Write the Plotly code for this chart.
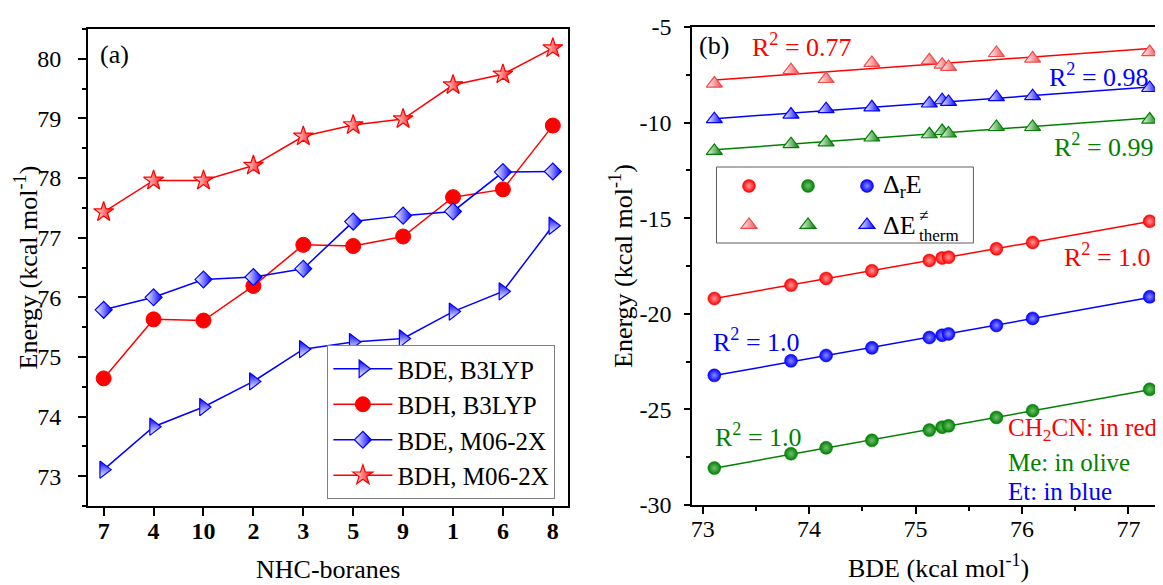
import numpy as np
import plotly.graph_objects as go

# ---------------- data ----------------
nhc_boranes = ["7", "4", "10", "2", "3", "5", "9", "1", "6", "8"]
bde_b3lyp = [73.11, 73.83, 74.16, 74.59, 75.13, 75.25, 75.31, 75.76, 76.10, 77.20]
bdh_b3lyp = [74.64, 75.63, 75.61, 76.19, 76.88, 76.86, 77.02, 77.68, 77.81, 78.88]
bde_m062x = [75.79, 76.00, 76.30, 76.34, 76.48, 77.27, 77.37, 77.44, 78.10, 78.11]
bdh_m062x = [77.43, 77.96, 77.96, 78.21, 78.70, 78.89, 78.99, 79.56, 79.74, 80.18]

# panel (b): x = BDE (B3LYP)
dre_ch2cn = [-19.20, -18.50, -18.15, -17.75, -17.21, -17.08, -17.04, -16.60, -16.27, -15.16]
dre_me = [-28.07, -27.32, -27.01, -26.62, -26.08, -25.93, -25.86, -25.42, -25.07, -23.95]
dre_et = [-23.22, -22.46, -22.18, -21.78, -21.24, -21.12, -21.05, -20.61, -20.24, -19.11]
dets_ch2cn = [-7.96, -7.26, -7.72, -6.88, -6.74, -6.97, -7.09, -6.36, -6.65, -6.31]
dets_me = [-11.48, -11.13, -11.03, -10.78, -10.61, -10.44, -10.57, -10.23, -10.23, -9.84]
dets_et = [-9.82, -9.58, -9.30, -9.20, -9.00, -8.83, -8.92, -8.67, -8.62, -8.19]

r2_labels = ["0.77", "0.98", "0.99", "1.0", "1.0", "1.0"]
yticks_b = [-30, -25, -20, -15, -10, -5]

# ---------------- layout helpers ----------------
FONT = "Liberation Serif"
OFF = 8  # default page body margin
W, H = 1163 - OFF, 585 - OFF
MT, MB = 27 - OFF, 79
PH = H - MT - MB


def px(x):
    return (x - OFF) / W


def py(y):
    return (H - MB - (y - OFF)) / PH


RED, GREEN, BLUE = "#ff0000", "#008000", "#0000ff"
RED_T = "#f04a4a"

fig = go.Figure()

# ---------------- panel (a) ----------------
fig.add_trace(go.Scatter(
    x=nhc_boranes, y=bde_b3lyp, mode="lines+markers", name="BDE, B3LYP",
    line=dict(color=BLUE, width=1.5),
    marker=dict(symbol="triangle-right", size=15, color=BLUE,
                gradient=dict(type="vertical", color="white"),
                line=dict(color=BLUE, width=1.2)),
    xaxis="x", yaxis="y", legend="legend"))
fig.add_trace(go.Scatter(
    x=nhc_boranes, y=bdh_b3lyp, mode="lines+markers", name="BDH, B3LYP",
    line=dict(color=RED, width=1.5),
    marker=dict(symbol="circle", size=15, color=RED, line=dict(color=RED, width=1)),
    xaxis="x", yaxis="y", legend="legend"))
fig.add_trace(go.Scatter(
    x=nhc_boranes, y=bde_m062x, mode="lines+markers", name="BDE, M06-2X",
    line=dict(color=BLUE, width=1.5),
    marker=dict(symbol="diamond", size=13, color="white",
                gradient=dict(type="horizontal", color=BLUE),
                line=dict(color=BLUE, width=1.2)),
    xaxis="x", yaxis="y", legend="legend"))
fig.add_trace(go.Scatter(
    x=nhc_boranes, y=bdh_m062x, mode="lines+markers", name="BDH, M06-2X",
    line=dict(color=RED, width=1.5),
    marker=dict(symbol="star", size=15, color="white",
                gradient=dict(type="horizontal", color=RED),
                line=dict(color=RED, width=1.2)),
    xaxis="x", yaxis="y", legend="legend"))

# ---------------- panel (b) ----------------
series_b = [
    (dets_ch2cn, RED), (dets_et, BLUE), (dets_me, GREEN),
    (dre_ch2cn, RED), (dre_et, BLUE), (dre_me, GREEN),
]
xb = np.array(bde_b3lyp)
for ys, col in series_b:
    k, b0 = np.polyfit(xb, np.array(ys), 1)
    xl = np.array([xb.min(), xb.max()])
    fig.add_trace(go.Scatter(
        x=xl, y=k * xl + b0, mode="lines", line=dict(color=col, width=1.5),
        showlegend=False, xaxis="x2", yaxis="y2", hoverinfo="skip"))

ball_tint = {RED: "#ff9a9a", GREEN: "#70c070", BLUE: "#8a8aff"}
for ys, col in [(dre_ch2cn, RED), (dre_me, GREEN), (dre_et, BLUE)]:
    fig.add_trace(go.Scatter(
        x=bde_b3lyp, y=ys, mode="markers", name="",
        marker=dict(symbol="circle", size=13, color=col,
                    gradient=dict(type="radial", color=ball_tint[col]),
                    line=dict(color=col, width=0.5)),
        xaxis="x2", yaxis="y2", legend="legend2"))
for ys, col in [(dets_ch2cn, RED_T), (dets_me, GREEN), (dets_et, BLUE)]:
    fig.add_trace(go.Scatter(
        x=bde_b3lyp, y=ys, mode="markers", name="",
        marker=dict(symbol="triangle-up", size=14, color="white",
                    gradient=dict(type="horizontal", color=col),
                    line=dict(color=col, width=1.2)),
        xaxis="x2", yaxis="y2", legend="legend3"))

# ---------------- axes ----------------
axis_common = dict(showline=True, linecolor="black", linewidth=1.5, showgrid=False,
                   zeroline=False, ticks="outside", tickcolor="black", tickwidth=1.5,
                   tickfont=dict(family=FONT, size=24, color="black"))
minor_common = dict(ticks="outside", ticklen=4, tickwidth=1.5, tickcolor="black", showgrid=False)

fig.update_layout(
    xaxis=dict(axis_common, domain=[px(87.7), px(567.8)], type="category",
               categoryorder="array", categoryarray=nhc_boranes,
               range=[-0.32, 9.3], mirror=True, ticklen=8, anchor="y",
               ticklabelstandoff=-6,
               tickfont=dict(family=FONT, size=24, color="black", weight="bold")),
    yaxis=dict(axis_common, domain=[0, py(29)], range=[72.5, 80.5], dtick=1, tick0=73,
               mirror=True, ticklen=8, anchor="x", ticklabelstandoff=12,
               minor=dict(minor_common, dtick=0.5, tick0=72.5)),
    xaxis2=dict(axis_common, domain=[px(692), 1], range=[72.9, 77.325], dtick=1, tick0=73,
                mirror=True, ticklen=7, anchor="y2", ticklabelstandoff=-6,
                minor=dict(minor_common, dtick=0.5, tick0=72.5)),
    yaxis2=dict(axis_common, domain=[py(505), 1], range=[-30, -5], dtick=5, tick0=-30,
                labelalias={"\u2212" + str(-v): str(v) for v in yticks_b},
                mirror=False, ticklen=6, anchor="x2", ticklabelstandoff=8,
                minor=dict(minor_common, dtick=2.5, tick0=-30)),
)

# ---------------- legends ----------------
fig.update_layout(
    legend=dict(x=px(327.4), y=py(345), xanchor="left", yanchor="top",
                bordercolor="#808080", borderwidth=1, bgcolor="white",
                font=dict(family=FONT, size=25, color="black"), itemwidth=59,
                tracegroupgap=0),
    legend2=dict(orientation="h", x=px(729), y=py(186), xanchor="left", yanchor="middle",
                 entrywidth=14, bgcolor="rgba(0,0,0,0)", borderwidth=0,
                 font=dict(family=FONT, size=26, color="black")),
    legend3=dict(orientation="h", x=px(729), y=py(225), xanchor="left", yanchor="middle",
                 entrywidth=14, bgcolor="rgba(0,0,0,0)", borderwidth=0,
                 font=dict(family=FONT, size=26, color="black")),
)
fig.add_shape(type="rect", xref="paper", yref="paper",
              x0=px(716.5), x1=px(973.4), y0=py(243), y1=py(167),
              line=dict(color="#606060", width=1), fillcolor="rgba(0,0,0,0)")

# ---------------- annotations ----------------
def ann(text, x, y, color="black", xanchor="left", size=26, angle=0):
    fig.add_annotation(text=text, x=px(x), y=py(y), xref="paper", yref="paper",
                       xanchor=xanchor, yanchor="middle", showarrow=False,
                       textangle=angle, font=dict(family=FONT, size=size, color=color))


ann("(a)", 98, 55)
ann("Energy (kcal mol<sup>-1</sup>)", 27, 267.5, xanchor="center", angle=-90)
ann("NHC-boranes", 328, 569, xanchor="center")
ann("(b)", 697, 45)
ann("Energy (kcal mol<sup>-1</sup>)", 621, 266, xanchor="center", angle=-90)
ann("BDE (kcal mol<sup>-1</sup>)", 938, 566, xanchor="center")
ann("R<sup>2</sup> = " + r2_labels[0], 750, 45, RED)
ann("R<sup>2</sup> = " + r2_labels[1], 1047, 76, BLUE)
ann("R<sup>2</sup> = " + r2_labels[2], 1052, 145, GREEN)
ann("R<sup>2</sup> = " + r2_labels[3], 1062, 256, RED)
ann("R<sup>2</sup> = " + r2_labels[4], 711, 340, BLUE)
ann("R<sup>2</sup> = " + r2_labels[5], 713, 435, GREEN)
ann("CH<sub>2</sub>CN: in red", 1006, 430, RED, size=25)
ann("Me: in olive", 1006, 462, GREEN, size=25)
ann("Et: in blue", 1006, 491, BLUE, size=25)
ann("Δ<sub>r</sub>E", 881, 186)
ann("ΔE", 881, 225)
ann("≠", 917, 216, size=17)
ann("therm", 917, 235, size=17)

fig.update_layout(
    width=W, height=H, margin=dict(l=0, r=0, t=MT, b=MB),
    paper_bgcolor="white", plot_bgcolor="white",
    font=dict(family=FONT, size=24, color="black"),
)

fig.write_html("out.html")
